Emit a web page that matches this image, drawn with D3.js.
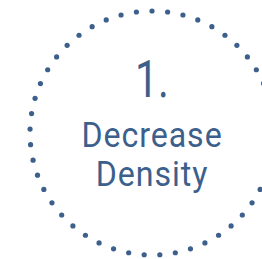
<!DOCTYPE html>
<html>
<head>
<meta charset="utf-8">
<script src="https://cdn.jsdelivr.net/npm/d3@7"></script>
<style>
  html, body { margin: 0; padding: 0; background: #fff; }
  svg { display: block; }
</style>
</head>
<body>
<script>
// size of the window
var w = 262;
var h = 259;

// the badge: step number + label lines
var stepNumber = ["1."];
var labelLines = ["Decrease", "Density"];
var dotCount = [49]; // dots round the ring

var blue = "#3d5f8c";
var cx = 152, cy = 133, r = 122;

var svg = d3.select("body")
  .append("svg")
  .attr("width", w)
  .attr("height", h);

// dotted ring, dots placed with an angle scale
var angle = d3.scaleLinear()
  .domain([0, dotCount[0]])
  .range([-Math.PI / 2, 1.5 * Math.PI]);

svg.selectAll("circle.dot")
  .data(d3.range(dotCount[0]))
  .enter()
  .append("circle")
  .attr("class", "dot")
  .attr("cx", function (d) { return cx + r * Math.cos(angle(d)); })
  .attr("cy", function (d) { return cy + r * Math.sin(angle(d)); })
  .attr("r", 2.6)
  .attr("fill", blue);

// big number, squeezed a bit (ref font is condensed)
svg.selectAll("text.num")
  .data(stepNumber)
  .enter()
  .append("text")
  .attr("class", "num")
  .attr("transform", "translate(" + cx + ",97) scale(0.82,1.04)")
  .attr("text-anchor", "middle")
  .attr("font-family", "Roboto, sans-serif")
  .attr("font-size", 50)
  .attr("fill", blue)
  .text(function (d) { return d; });

// label lines
var lineY = d3.scalePoint()
  .domain(labelLines)
  .range([147, 186]);

svg.selectAll("text.label")
  .data(labelLines)
  .enter()
  .append("text")
  .attr("class", "label")
  .attr("transform", function (d) { return "translate(" + cx + "," + lineY(d) + ") scale(0.92,1)"; })
  .attr("text-anchor", "middle")
  .attr("font-family", "Roboto, sans-serif")
  .attr("font-size", 35)
  .attr("letter-spacing", 1)
  .attr("fill", blue)
  .text(function (d) { return d; });
</script>
</body>
</html>
